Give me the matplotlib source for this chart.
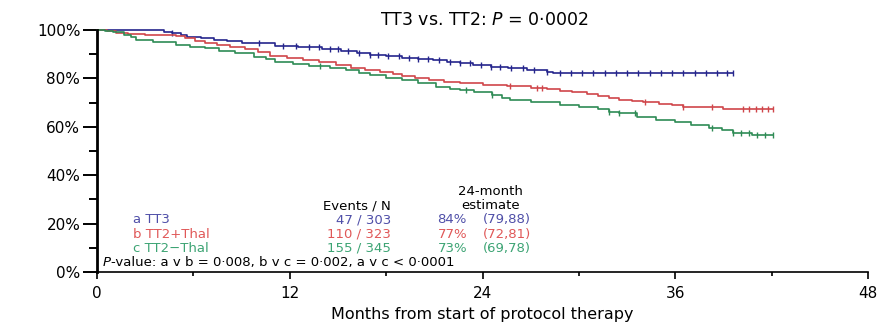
import numpy as np
import matplotlib
matplotlib.use("Agg")
import matplotlib.pyplot as plt

# Kaplan-Meier steps (months, % event-free)
tt3_t = [0, 4.2, 4.7, 5.2, 5.6, 6.5, 7.3, 8.1, 9.0, 9.8, 11.1, 12.5, 14.0, 15.2,
         16.2, 17.0, 18.0, 19.0, 20.0, 20.9, 21.8, 22.6, 23.4, 24.5, 25.6, 26.8,
         28.0, 28.4]
tt3_s = [100, 99.3, 98.6, 97.9, 97.2, 96.6, 96.0, 95.3, 94.8, 94.5, 93.4, 92.8,
         92.2, 91.3, 90.5, 89.8, 89.2, 88.6, 88.0, 87.4, 86.8, 86.2, 85.5, 84.8,
         84.1, 83.4, 82.8, 82.2]
tt3_end = 39.6
tt3_cens = [4.7, 10.1, 11.6, 12.4, 13.2, 13.8, 14.5, 15.0, 15.6, 16.3, 17.0, 17.5,
            18.1, 18.8, 19.4, 20.0, 20.6, 21.3, 22.0, 22.6, 23.2, 23.9, 24.5, 25.1,
            25.8, 26.5, 27.2, 28.0, 28.8, 29.5, 30.2, 30.9, 31.6, 32.3, 33.0, 33.7,
            34.4, 35.1, 35.8, 36.5, 37.2, 37.9, 38.6, 39.2, 39.6]

thal_t = [0, 0.6, 1.2, 1.9, 3.0, 4.9, 5.5, 6.1, 6.7, 7.5, 8.3, 9.2, 10.0, 10.8,
          11.8, 12.8, 13.8, 14.9, 15.8, 16.7, 17.6, 18.4, 19.0, 19.8, 20.7, 21.6,
          22.6, 24.0, 25.5, 27.0, 28.0, 28.8, 29.6, 30.5, 31.2, 31.9, 32.5, 33.3,
          34.0, 35.0, 35.8, 36.5, 39.0]
thal_s = [100, 99.4, 98.9, 98.3, 97.9, 97.4, 96.5, 95.6, 94.7, 93.8, 93.0, 92.2,
          90.8, 89.4, 88.5, 87.6, 86.6, 85.5, 84.5, 83.6, 82.7, 81.8, 80.9, 80.1,
          79.3, 78.6, 78.0, 77.3, 76.7, 76.1, 75.7, 75.0, 74.2, 73.4, 72.8, 72.0,
          71.2, 70.8, 70.3, 69.6, 69.0, 68.2, 67.5]
thal_end = 42.1
thal_cens = [25.7, 27.4, 27.7, 34.1, 36.5, 38.3, 40.2, 40.6, 41.0, 41.4, 41.8, 42.1]

nothal_t = [0, 0.5, 1.0, 1.7, 2.1, 2.4, 3.5, 4.9, 5.8, 6.7, 7.6, 8.6, 9.8, 10.5,
            11.1, 12.2, 13.2, 14.5, 15.5, 16.3, 17.0, 18.0, 19.0, 20.0, 21.1, 22.0,
            22.6, 23.5, 24.6, 25.2, 25.7, 27.0, 28.8, 30.0, 31.2, 31.9, 32.5, 33.6,
            34.8, 36.0, 37.0, 38.1, 38.9, 39.6, 40.8]
nothal_s = [100, 99.5, 99.0, 98.0, 97.0, 95.9, 95.0, 93.8, 93.1, 92.4, 91.4, 90.4,
            89.0, 87.9, 86.9, 86.0, 85.2, 84.4, 83.3, 82.3, 81.4, 80.3, 79.3, 78.0,
            76.6, 75.8, 75.2, 74.5, 73.1, 72.0, 71.1, 70.2, 69.0, 68.2, 67.4, 66.2,
            65.6, 64.2, 63.0, 61.8, 60.6, 59.4, 58.5, 57.4, 56.5]
nothal_end = 42.1
nothal_cens = [13.9, 23.0, 24.6, 31.9, 32.5, 33.5, 38.3, 39.6, 40.1, 40.6, 41.1,
               41.6, 42.1]

labels = ["a TT3", "b TT2+Thal", "c TT2\u2212Thal"]
events = ["47 / 303", "110 / 323", "155 / 345"]
est24 = ["84%", "77%", "73%"]
ci24 = ["(79,88)", "(72,81)", "(69,78)"]

line_colors = ["#25258c", "#d0464a", "#2e8b55"]
text_colors = ["#4f4fa8", "#e05858", "#3da474"]

plt.rcParams["font.family"] = ["DejaVu Sans"]

fig = plt.figure(figsize=(8.85, 3.24), dpi=100)
ax = fig.add_axes([97 / 885, 52 / 324, 771 / 885, 242 / 324])

curves = [(tt3_t, tt3_s, tt3_end, tt3_cens),
          (thal_t, thal_s, thal_end, thal_cens),
          (nothal_t, nothal_s, nothal_end, nothal_cens)]

for (t, s, end, cens), col in zip(curves, line_colors):
    t = np.array(t + [end])
    s = np.array(s + [s[-1]])
    ax.step(t, s, where="post", color=col, lw=1.2, clip_on=False)
    c = np.array(cens)
    idx = np.searchsorted(t, c, side="right") - 1
    ax.plot(c, s[idx], ls="none", marker="|", ms=4, mew=1.0, color=col,
            clip_on=False)

ax.set_xlim(0, 48)
ax.set_ylim(0, 100)
ax.spines["top"].set_visible(False)
ax.spines["right"].set_visible(False)
ax.spines["left"].set_linewidth(2.0)
ax.spines["bottom"].set_linewidth(1.2)

ax.set_xticks([0, 12, 24, 36, 48])
ax.set_xticks([6, 18, 30, 42], minor=True)
ax.set_yticks([0, 20, 40, 60, 80, 100])
ax.set_yticklabels(["0%", "20%", "40%", "60%", "80%", "100%"])
ax.set_yticks([10, 30, 50, 70, 90], minor=True)
ax.tick_params(axis="y", which="major", length=10, width=1.4, pad=2, labelsize=11)
ax.tick_params(axis="y", which="minor", length=6, width=1.4)
ax.tick_params(axis="x", which="major", length=5, width=1.2, pad=5, labelsize=11)
ax.tick_params(axis="x", which="minor", length=3, width=1.2)

ax.set_xlabel("Months from start of protocol therapy", fontsize=11.5)
ax.xaxis.set_label_coords(0.5, -0.145)

fig.text(484 / 885, 1 - 20 / 324, "TT3 vs. TT2: $P$ = 0\u00b70002",
         ha="center", va="center", fontsize=12.5)

# summary table inside the plot
fs = 9.5
ax.text(24.5, 33.1, "24-month", ha="center", va="center", fontsize=fs)
ax.text(16.2, 27.3, "Events / N", ha="center", va="center", fontsize=fs)
ax.text(24.5, 27.3, "estimate", ha="center", va="center", fontsize=fs)
rows_y = [21.5, 15.7, 9.9]
for i, yy in enumerate(rows_y):
    col = text_colors[i]
    ax.text(2.24, yy, labels[i], ha="left", va="center", fontsize=fs, color=col)
    ax.text(18.3, yy, events[i], ha="right", va="center", fontsize=fs, color=col)
    ax.text(21.2, yy, est24[i], ha="left", va="center", fontsize=fs, color=col)
    ax.text(24.0, yy, ci24[i], ha="left", va="center", fontsize=fs, color=col)
p_it = ax.text(0.37, 4.1, "P", ha="left", va="center", fontsize=fs,
               fontstyle="italic")
ax.annotate("-value: a v b = 0\u00b7008, b v c = 0\u00b7002, a v c < 0\u00b70001",
            xy=(1, 0.5), xycoords=p_it, ha="left", va="center", fontsize=fs)

fig.savefig("out.png", dpi=100)
